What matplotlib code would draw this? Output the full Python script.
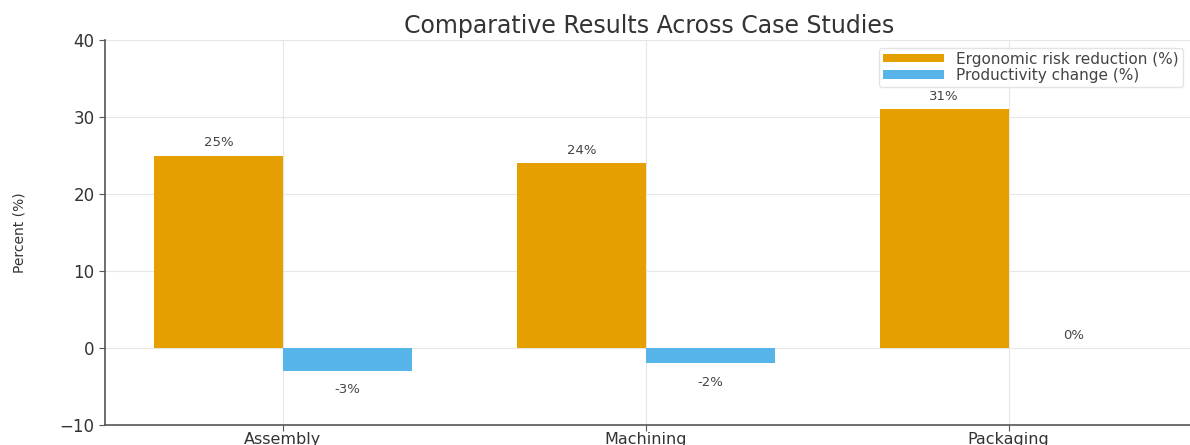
import matplotlib
matplotlib.use("Agg")
import matplotlib.pyplot as plt
import numpy as np

categories = ["Assembly", "Machining", "Packaging"]
ergonomic = [25, 24, 31]
productivity = [-3, -2, 0]
series_names = ["Ergonomic risk reduction (%)", "Productivity change (%)"]
colors = ["#E69F00", "#56B4E9"]

plt.rcParams['font.family'] = ['DejaVu Sans']
fig = plt.figure(figsize=(11.9, 4.45), dpi=100)
ax = fig.add_axes([0.0882, 0.045, 0.915, 0.865])

x = np.arange(len(categories))
w = 0.355
b1 = ax.bar(x - w/2, ergonomic, w, color=colors[0], label=series_names[0], zorder=2)
b2 = ax.bar(x + w/2, productivity, w, color=colors[1], label=series_names[1], zorder=2)

for bars in (b1, b2):
    for r in bars:
        h = r.get_height()
        cx = r.get_x() + r.get_width()/2
        if h >= 0:
            ax.text(cx, h + 0.8, f"{h:.0f}%", ha='center', va='bottom', fontsize=9.5, color='#444444')
        else:
            ax.text(cx, h - 1.6, f"{h:.0f}%", ha='center', va='top', fontsize=9.5, color='#444444')

ax.set_xlim(-0.49, 2.51)
ax.set_ylim(-10, 40)
ax.set_yticks([-10, 0, 10, 20, 30, 40])
ax.set_xticks(x)
ax.set_xticklabels(categories)
ax.tick_params(axis='both', labelsize=12, colors='#555555', labelcolor='#333333', length=4)
ax.tick_params(axis='x', pad=1, labelsize=11.5)
ax.set_ylabel("Percent (%)", fontsize=10, color='#333333', labelpad=24)
ax.set_title("Comparative Results Across Case Studies", fontsize=17, color='#333333', pad=5)
ax.grid(True, color='#e6e6e6', linewidth=0.8, zorder=0)
ax.set_axisbelow(True)
for s in ['top', 'right']:
    ax.spines[s].set_visible(False)
for s in ['left', 'bottom']:
    ax.spines[s].set_color('#555555')
    ax.spines[s].set_linewidth(1.2)

leg = ax.legend(loc='upper right', fontsize=11, frameon=True, borderpad=0.25,
                handlelength=4, handleheight=0.5, labelspacing=0.1,
                bbox_to_anchor=(0.997, 1.0))
leg.get_frame().set_edgecolor('#dddddd')
for t in leg.get_texts():
    t.set_color('#444444')

fig.savefig("out.png", dpi=100)
